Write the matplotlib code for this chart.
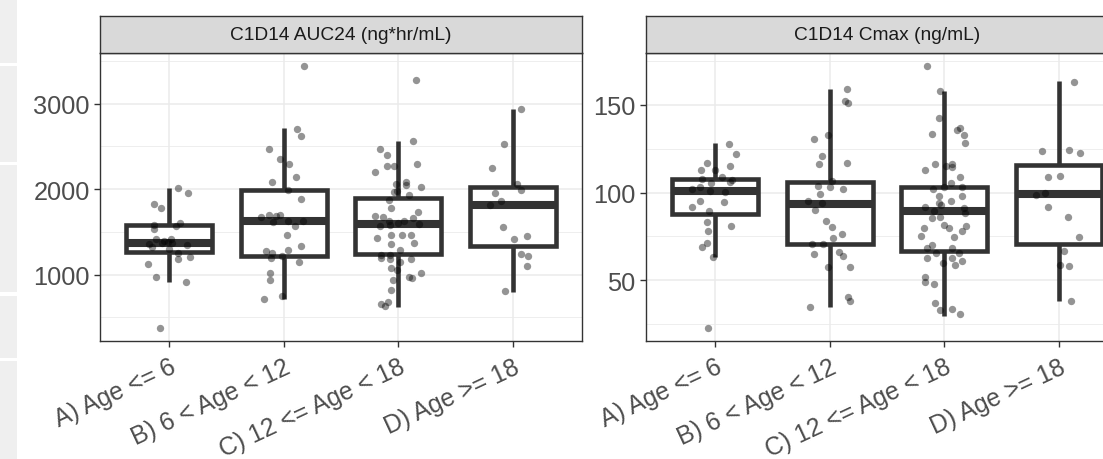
import matplotlib
matplotlib.use("Agg")
import matplotlib.pyplot as plt
from matplotlib.patches import Rectangle
import numpy as np

plt.rcParams["font.family"] = ["Liberation Sans", "DejaVu Sans"]

# --- data ---

categories = ["A) Age <= 6", "B) 6 < Age < 12", "C) 12 <= Age < 18", "D) Age >= 18"]
panel_titles = ["C1D14 AUC24 (ng*hr/mL)", "C1D14 Cmax (ng/mL)"]

# Box statistics per age group (A..D).
auc_q1 = [1261, 1218, 1238, 1335]
auc_med = [1372, 1627, 1588, 1817]
auc_q3 = [1577, 1990, 1895, 2030]
auc_whislo = [911, 717, 619, 794]
auc_whishi = [2020, 2720, 2564, 2934]

cmax_q1 = [87.5, 70.4, 66.6, 70.4]
cmax_med = [100.8, 93.2, 89.4, 98.9]
cmax_q3 = [108.0, 105.9, 103.1, 115.6]
cmax_whislo = [63.4, 34.5, 29.7, 38.3]
cmax_whishi = [128.5, 158.9, 158.0, 163.7]

# Individual subjects: value and horizontal jitter (category units).
auc_a = [2020, 1961, 1825, 1779, 1580, 1533, 1600, 1572, 1417, 1397, 1417, 1358, 1366,
         1366, 1320, 1351, 1300, 1250, 1211, 1187, 1125, 969, 919, 378, 1378]
auc_a_jit = [0.08, 0.17, -0.13, -0.07, -0.13, -0.13, 0.10, 0.06, -0.11, -0.04, 0.02, -0.17, -0.06,
             0.03, -0.15, 0.16, 0.00, 0.08, 0.18, 0.08, -0.18, -0.11, 0.15, -0.08, -0.01]
auc_b = [3440, 2708, 2623, 2467, 2350, 2300, 2148, 2086, 1989, 1880, 1677, 1701, 1689, 1697,
         1611, 1623, 1565, 1631, 1463, 1331, 1281, 1253, 1292, 1191, 1222, 1152, 1024, 938,
         717, 748]
auc_b_jit = [0.18, 0.12, 0.15, -0.13, -0.03, 0.05, 0.11, -0.10, 0.04, 0.15, -0.20, -0.13, -0.07,
             -0.03, -0.09, 0.04, 0.10, 0.17, 0.03, 0.15, -0.15, -0.10, 0.04, -0.11, -0.01, 0.13,
             -0.12, -0.12, -0.17, -0.01]
auc_c = [3272, 2564, 2467, 2397, 2273, 2273, 2292, 2199, 2059, 2086, 2051, 2027, 1981, 1934,
         1876, 1786, 1728, 1689, 1670, 1631, 1572, 1584, 1600, 1623, 1662, 1592, 1428, 1463,
         1463, 1463, 1358, 1370, 1292, 1234, 1234, 1195, 1183, 1183, 1078, 1055, 969, 962,
         1020, 942, 818, 658, 639, 678, 1145, 1973]
auc_c_jit = [0.15, 0.13, -0.16, -0.10, -0.10, -0.04, 0.16, -0.20, -0.02, 0.07, 0.07, 0.20, -0.01,
             0.09, -0.08, -0.06, 0.17, -0.20, -0.13, -0.08, -0.16, -0.07, 0.00, 0.05, 0.13, 0.18,
             -0.19, -0.06, 0.03, 0.11, -0.06, 0.14, 0.01, -0.15, -0.07, -0.15, -0.07, 0.11, -0.06,
             -0.01, 0.09, 0.12, 0.20, -0.05, -0.06, -0.15, -0.12, -0.09, 0.01, -0.04]
auc_d = [2934, 2525, 2253, 2066, 1989, 1957, 1864, 1817, 1553, 1417, 1456, 1242, 1218, 1102, 806]
auc_d_jit = [0.07, -0.08, -0.18, 0.03, 0.07, -0.16, -0.11, -0.20, -0.09, 0.01, 0.12, 0.07, 0.13,
             0.12, -0.07]

cmax_a = [127.6, 121.9, 117.1, 112.9, 114.9, 112.9, 107.6, 105.7, 108.6, 106.1, 107.1, 101.9,
          103.3, 101.0, 100.4, 95.3, 94.7, 91.5, 89.6, 83.3, 81.0, 77.8, 71.0, 68.7, 63.4, 22.7]
cmax_a_jit = [0.12, 0.18, -0.07, -0.12, 0.13, 0.00, -0.11, -0.03, 0.06, 0.13, 0.15, -0.20, -0.13,
              -0.04, 0.09, -0.13, 0.08, -0.20, -0.05, -0.07, 0.14, -0.06, -0.07, -0.11, -0.02, -0.06]
cmax_b = [158.9, 152.3, 151.3, 130.8, 132.9, 120.6, 116.2, 116.6, 106.7, 103.8, 102.9, 102.3,
          99.1, 95.3, 90.0, 94.3, 83.9, 80.5, 76.3, 73.8, 70.6, 70.6, 64.9, 66.2, 63.5, 57.3,
          57.3, 40.2, 38.3, 34.9]
cmax_b_jit = [0.15, 0.13, 0.16, -0.14, -0.01, -0.07, -0.09, 0.15, 0.02, -0.10, 0.00, 0.12, -0.08,
              -0.19, -0.13, -0.07, -0.03, 0.02, 0.11, 0.03, -0.15, -0.06, -0.14, 0.08, 0.12, 0.18,
              -0.01, 0.16, 0.18, -0.17]
cmax_c = [172.2, 158.0, 142.8, 133.3, 135.6, 136.7, 132.9, 128.5, 116.2, 112.9, 114.9, 116.2,
          114.7, 108.6, 105.7, 103.3, 101.9, 103.3, 98.1, 98.1, 95.3, 93.0, 91.5, 89.6, 91.1,
          88.3, 85.4, 86.2, 81.6, 79.7, 79.7, 80.7, 77.8, 75.3, 74.4, 70.0, 68.3, 68.3, 65.4,
          65.3, 62.4, 62.6, 61.1, 58.8, 59.6, 51.6, 48.7, 47.8, 36.8, 33.0, 33.6, 30.7, 93.8]
cmax_c_jit = [-0.15, -0.04, -0.05, -0.11, 0.11, 0.14, 0.17, 0.18, -0.08, -0.17, 0.01, 0.07, 0.07,
              0.14, 0.06, 0.00, -0.10, 0.15, -0.05, 0.15, 0.06, -0.03, -0.17, -0.09, 0.17, 0.18,
              -0.11, -0.04, 0.00, 0.04, -0.18, 0.19, 0.15, -0.20, 0.08, -0.11, -0.15, 0.07, -0.07,
              0.13, -0.15, 0.07, 0.15, 0.09, -0.01, -0.17, -0.17, -0.09, -0.08, -0.04, 0.07, 0.14,
              -0.05]
cmax_d = [163.3, 123.8, 124.5, 122.8, 108.6, 109.2, 98.5, 100.0, 91.9, 86.2, 74.4, 66.8, 58.8,
          58.0, 38.3]
cmax_d_jit = [0.13, -0.15, 0.09, 0.18, -0.10, 0.01, -0.20, -0.12, -0.10, 0.08, 0.17, 0.04, 0.01,
              0.09, 0.10]

auc_major = [1000, 2000, 3000]
auc_minor = [500, 1500, 2500, 3500]
cmax_major = [50, 100, 150]
cmax_minor = [25, 75, 125, 175]

# --- layout (pixels) ---

W, H = 1103, 460
fig = plt.figure(figsize=(W / 100, H / 100), dpi=100)
DARK = "#333333"
GRID = "#EBEBEB"


def px_axes(left, top, right, bottom):
    return fig.add_axes([left / W, 1 - bottom / H, (right - left) / W, (bottom - top) / H])


# grey side bar of the page the chart was captured from
for top, bot in [(0, 64), (67, 163), (166, 293), (297, 359), (362, 460)]:
    fig.add_artist(Rectangle((0, 1 - bot / H), 17 / W, (bot - top) / H,
                             transform=fig.transFigure, facecolor="#EFEFEF",
                             edgecolor="none"))


def draw_panel(ax, q1, med, q3, lo, hi, values, jitters, major, minor):
    pos = np.arange(1, len(categories) + 1)
    stats = [dict(q1=a, med=b, q3=c, whislo=d, whishi=e, fliers=[])
             for a, b, c, d, e in zip(q1, med, q3, lo, hi)]
    ax.bxp(stats, positions=pos, widths=0.75, showfliers=False, showcaps=False,
           patch_artist=True,
           boxprops=dict(facecolor="white", edgecolor=DARK, linewidth=3.3,
                         joinstyle="miter"),
           medianprops=dict(color=DARK, linewidth=5.8, solid_capstyle="butt"),
           whiskerprops=dict(color=DARK, linewidth=3.3, solid_capstyle="butt"))
    for p, vals, jit in zip(pos, values, jitters):
        ax.scatter(p + np.array(jit), vals, s=28, color="black", alpha=0.42,
                   linewidths=0, zorder=4)

    all_vals = np.concatenate([np.asarray(v, float) for v in values] + [lo, hi])
    span = all_vals.max() - all_vals.min()
    ax.set_ylim(all_vals.min() - 0.05 * span, all_vals.max() + 0.05 * span)
    ax.set_xlim(0.4, 4.6)

    ax.set_yticks(major)
    ax.set_yticks(minor, minor=True)
    ax.set_xticks(pos)
    ax.set_xticklabels(categories, rotation=25, ha="right", rotation_mode="anchor",
                       fontsize=17.8)
    ax.set_axisbelow(True)
    ax.grid(which="major", color=GRID, linewidth=1.1)
    ax.grid(which="minor", axis="y", color=GRID, linewidth=0.6)
    ax.tick_params(which="major", length=4, width=1.0, color=DARK,
                   labelcolor="#4D4D4D")
    ax.tick_params(axis="y", pad=3.4, labelsize=18.3)
    ax.tick_params(axis="x", pad=5.5)
    ax.tick_params(which="minor", length=0)
    for s in ax.spines.values():
        s.set_color(DARK)
        s.set_linewidth(1.0)


def draw_strip(left, right, title):
    sax = px_axes(left, 17, right, 54)
    sax.set_facecolor("#D9D9D9")
    sax.set_xticks([])
    sax.set_yticks([])
    for s in sax.spines.values():
        s.set_color(DARK)
        s.set_linewidth(1.0)
    sax.text(0.5, 0.5, title, ha="center", va="center", fontsize=13.8,
             color="#1A1A1A", transform=sax.transAxes)


ax1 = px_axes(100, 54, 582, 342)
draw_panel(ax1, auc_q1, auc_med, auc_q3, auc_whislo, auc_whishi,
           [auc_a, auc_b, auc_c, auc_d],
           [auc_a_jit, auc_b_jit, auc_c_jit, auc_d_jit],
           auc_major, auc_minor)
draw_strip(100, 582, panel_titles[0])

# right panel runs past the captured edge of the image
ax2 = px_axes(646, 54, 1128, 342)
draw_panel(ax2, cmax_q1, cmax_med, cmax_q3, cmax_whislo, cmax_whishi,
           [cmax_a, cmax_b, cmax_c, cmax_d],
           [cmax_a_jit, cmax_b_jit, cmax_c_jit, cmax_d_jit],
           cmax_major, cmax_minor)
draw_strip(646, 1128, panel_titles[1])

fig.savefig("out.png", dpi=100)
